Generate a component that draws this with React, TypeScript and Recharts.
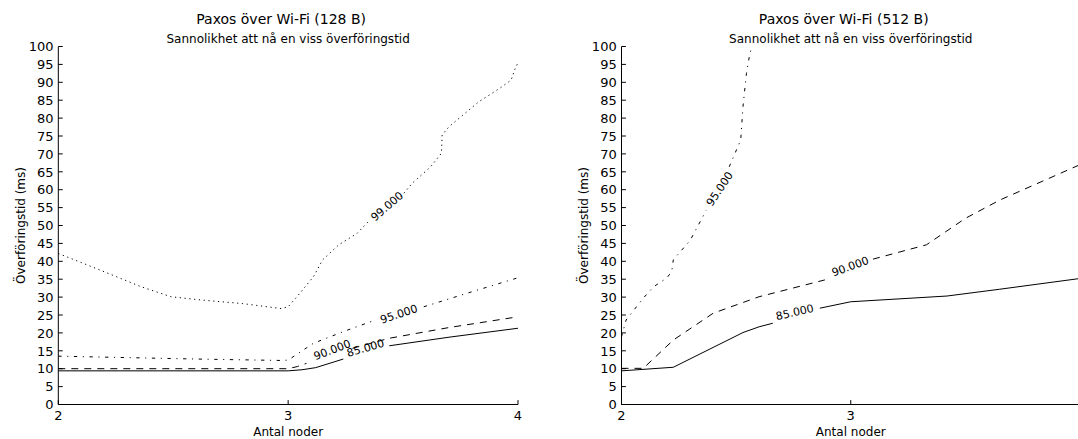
import React from 'react';
import { LineChart, Line, XAxis, YAxis, ReferenceDot } from 'recharts';

type Pair = [number, number | null];

// axis ticks
const xTicks = [2, 3, 4];
const yTicks = [0, 5, 10, 15, 20, 25, 30, 35, 40, 45, 50, 55, 60, 65, 70, 75, 80, 85, 90, 95, 100];

// Paxos över Wi-Fi (128 B) – contour lines (antal noder, ms); null = gap for label
const small85: Pair[] = [[2, 9.4], [3, 9.4], [3.06, 9.7], [3.12, 10.3], [3.24, 12.7], [3.34, null], [3.44, 16.4], [3.7, 18.8], [4, 21.3]];
const small90: Pair[] = [[2, 10], [3, 10], [3.04, 10.6], [3.08, 11.5], [3.18, null], [3.28, 15.7], [3.44, 18.5], [3.7, 21.5], [4, 24.5]];
const small95: Pair[] = [[2, 13.5], [2.6, 12.7], [2.97, 12.3], [3.0, 12.4], [3.11, 17.1], [3.25, 20.6], [3.38, 23.6], [3.48, null], [3.59, 27.3], [3.8, 31.5], [4, 35.4]];
const small99: Pair[] = [
  [2, 42.2], [2.18, 37.6], [2.36, 32.9], [2.49, 30.1], [2.62, 29.2], [2.8, 28.2], [2.97, 26.8], [3.0, 27.3],
  [3.05, 31], [3.11, 35.7], [3.15, 40.4], [3.22, 44.6], [3.3, 47.8], [3.355, 51.5], [3.42, null], [3.49, 58],
  [3.54, 61.8], [3.62, 66.4], [3.667, 70.2], [3.67, 75.3], [3.7, 77.6], [3.83, 84.6], [3.92, 88.3], [3.97, 90.6],
  [3.985, 93.4], [4, 95.5],
];

// Paxos över Wi-Fi (512 B)
const large85: Pair[] = [[2, 9.4], [2.226, 10.4], [2.53, 20.1], [2.6, 21.7], [2.66, 22.7], [2.76, null], [2.865, 26.9], [3, 28.7], [3.42, 30.3], [3.65, 32.2], [4, 35.2]];
const large90: Pair[] = [[2, 10.1], [2.095, 10.1], [2.226, 18], [2.4, 25.5], [2.6, 30.1], [2.887, 34.8], [3, null], [3.097, 40.6], [3.33, 44.6], [3.5, 52], [3.65, 57.1], [4, 67]];
const large95: Pair[] = [
  [2, 18.9], [2.02, 23.6], [2.095, 29.7], [2.14, 32.9], [2.197, 35.3], [2.219, 37.1], [2.226, 40.4], [2.3, 45.9],
  [2.37, 54.3], [2.42, null], [2.47, 66.4], [2.52, 73.9], [2.53, 83.2], [2.545, 92.5], [2.56, 98.1], [2.57, 100],
];

// contour label positions: [x, y, text, angle]
const smallLabels: [number, number, string, number][] = [
  [3.431, 55.3, '99.000', -41],
  [3.482, 25.2, '95.000', -18.5],
  [3.192, 15.2, '90.000', -21],
  [3.337, 15.7, '85.000', -16],
];
const largeLabels: [number, number, string, number][] = [
  [2.429, 60.2, '95.000', -56],
  [2.998, 38.5, '90.000', -20],
  [2.756, 25.7, '85.000', -13],
];

const FONT = '"DejaVu Sans", sans-serif';
const INK = '#000';
const TICK = 4.4;
const H = 439;
const TOP = 46.5;
const XAXIS_H = 34.5;
const BOTTOM = H - XAXIS_H;
const VIEW_W = 1078;

const styles: Record<string, string | undefined> = {
  '85': undefined,
  '90': '7 6',
  '95': '3.3 5.6 1.1 5.6',
  '99': '1.2 3.6',
};

const toRows = (pairs: Pair[]) => pairs.map(([x, y]) => ({ x, y }));

type PanelProps = {
  left: number;
  width: number;
  yAxisW: number;
  marginRight: number;
  series: [string, Pair[]][];
  labels: [number, number, string, number][];
};

function Panel({ left, width, yAxisW, marginRight, series, labels }: PanelProps) {
  const plotLeft = yAxisW;
  const plotRight = width - marginRight;

  const leftTick = (p: any) => (
    <g>
      <line x1={plotLeft} x2={plotLeft + TICK} y1={p.y} y2={p.y} stroke={INK} />
      <text x={plotLeft - 4.8} y={p.y} dy={4.7} textAnchor="end" fontSize={13} fontFamily={FONT} fill={INK}>
        {p.payload.value}
      </text>
    </g>
  );
  const rightTick = (p: any) => <line x1={plotRight} x2={plotRight - TICK} y1={p.y} y2={p.y} stroke={INK} />;
  // labels that would fall past the window's right edge are left out, as in the cropped original
  const bottomTick = (p: any) => (
    <g>
      <line x1={p.x} x2={p.x} y1={BOTTOM} y2={BOTTOM - TICK} stroke={INK} />
      {left + p.x + 6 < VIEW_W && (
        <text x={p.x} y={BOTTOM + 15} textAnchor="middle" fontSize={13} fontFamily={FONT} fill={INK}>
          {p.payload.value}
        </text>
      )}
    </g>
  );
  const topTick = (p: any) => <line x1={p.x} x2={p.x} y1={TOP} y2={TOP + TICK} stroke={INK} />;

  return (
    <div style={{ position: 'absolute', left, top: 0 }}>
      <LineChart width={width} height={H} margin={{ top: TOP, right: marginRight, bottom: 0, left: 0 }}>
        <XAxis type="number" dataKey="x" domain={[2, 4]} ticks={xTicks} interval={0} height={XAXIS_H}
          tickLine={false} tickSize={0} tick={bottomTick} axisLine={{ stroke: INK }} />
        <XAxis xAxisId="top" orientation="top" type="number" domain={[2, 4]} ticks={xTicks} interval={0} height={0}
          tickLine={false} tickSize={0} tick={topTick} axisLine={{ stroke: INK }} />
        <YAxis type="number" domain={[0, 100]} ticks={yTicks} interval={0} width={yAxisW}
          tickLine={false} tickSize={0} tick={leftTick} axisLine={{ stroke: INK }} />
        <YAxis yAxisId="right" orientation="right" type="number" domain={[0, 100]} ticks={yTicks} interval={0} width={0}
          tickLine={false} tickSize={0} tick={rightTick} axisLine={{ stroke: INK }} />
        {series.map(([level, pts]) => (
          <Line key={level} data={toRows(pts)} dataKey="y" type="linear" stroke={INK} strokeWidth={1}
            strokeDasharray={styles[level]} dot={false} activeDot={false} connectNulls={false}
            isAnimationActive={false} />
        ))}
        {labels.map(([x, y, text, angle]) => (
          <ReferenceDot key={text} x={x} y={y} r={0}
            shape={(p: any) => (
              <text x={p.cx} y={p.cy} transform={`rotate(${angle} ${p.cx} ${p.cy})`} textAnchor="middle"
                dominantBaseline="central" fontSize={11} fontFamily={FONT} fill={INK}>
                {text}
              </text>
            )}
          />
        ))}
      </LineChart>
    </div>
  );
}

export default function App() {
  const leftCenter = (58.3 + 518) / 2;
  const rightCenter = (621.5 + 1080) / 2;
  return (
    <div style={{ position: 'absolute', left: 0, top: 0, width: VIEW_W, height: H, overflow: 'hidden', background: '#fff', fontFamily: FONT }}>
      <Panel left={0} width={540} yAxisW={58.3} marginRight={22}
        series={[['85', small85], ['90', small90], ['95', small95], ['99', small99]]} labels={smallLabels} />
      <Panel left={540} width={540} yAxisW={81.5} marginRight={0}
        series={[['85', large85], ['90', large90], ['95', large95]]} labels={largeLabels} />
      <svg width={VIEW_W} height={H} style={{ position: 'absolute', left: 0, top: 0, pointerEvents: 'none' }}>
        <g fontFamily={FONT} fill={INK} textAnchor="middle">
          <text x={leftCenter - 7} y={24} fontSize={14}>Paxos över Wi-Fi (128 B)</text>
          <text x={leftCenter} y={42.5} fontSize={12}>Sannolikhet att nå en viss överföringstid</text>
          <text x={rightCenter - 7} y={24} fontSize={14}>Paxos över Wi-Fi (512 B)</text>
          <text x={rightCenter} y={42.5} fontSize={12}>Sannolikhet att nå en viss överföringstid</text>
          <text x={leftCenter} y={435.5} fontSize={12}>Antal noder</text>
          <text x={rightCenter} y={435.5} fontSize={12}>Antal noder</text>
          <text x={24.5} y={225.5} fontSize={12} transform="rotate(-90 24.5 225.5)">Överföringstid (ms)</text>
          <text x={587.7} y={225.5} fontSize={12} transform="rotate(-90 587.7 225.5)">Överföringstid (ms)</text>
        </g>
      </svg>
    </div>
  );
}
